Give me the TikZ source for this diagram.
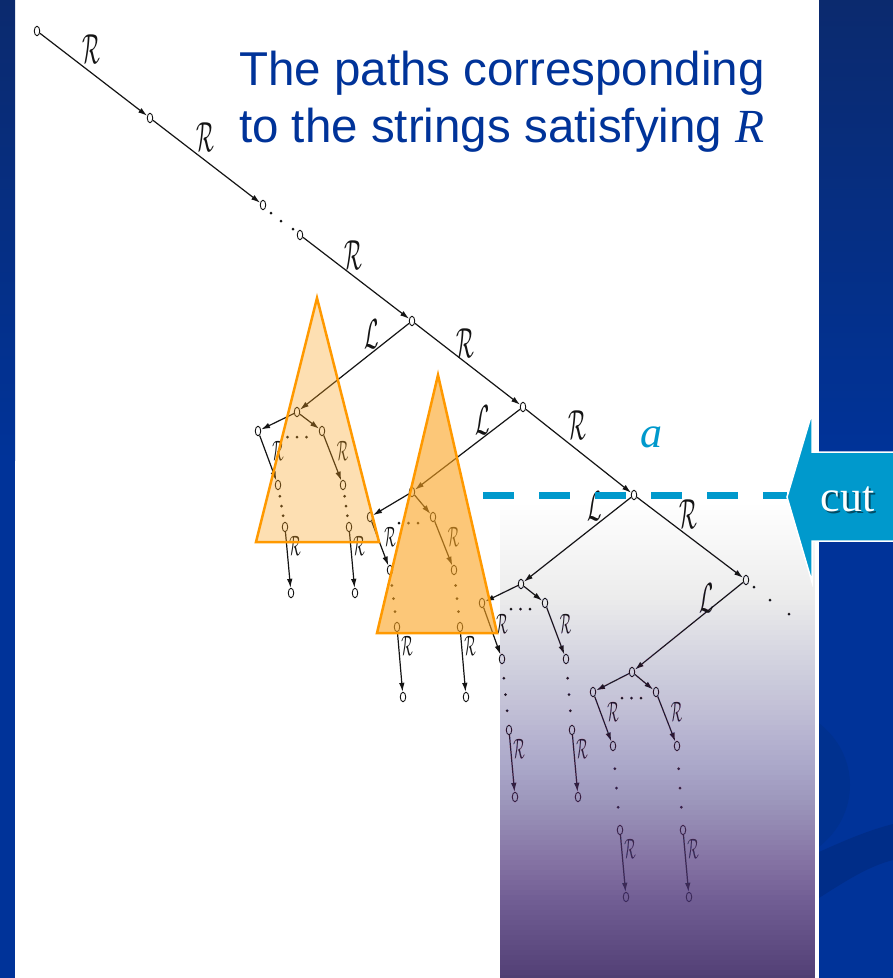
\documentclass[tikz,border=0pt]{standalone}
\usepackage{fontspec}
\setmainfont{Liberation Sans}
\newfontfamily\tnr{Liberation Serif}
\usetikzlibrary{arrows.meta,shapes.geometric,calc}
\definecolor{pptblue}{HTML}{003399}
\definecolor{pptnavy}{HTML}{0B2A6E}
\definecolor{swoosh}{HTML}{00318F}
\definecolor{swooshb}{HTML}{002D88}
\definecolor{cutcyan}{HTML}{0099CC}
\definecolor{triorange}{HTML}{FF9900}
\definecolor{trifill}{RGB}{250,163,30}
\definecolor{ovtop}{RGB}{150,110,215}
\definecolor{ovbot}{RGB}{64,50,100}
\definecolor{treeink}{RGB}{20,20,20}
\newcommand{\myR}{\scalebox{2.1}[4.2]{$\mathcal{R}$}}
\newcommand{\myL}{\scalebox{2.1}[4.2]{$\mathcal{L}$}}
\newcommand{\mysR}{\scalebox{1.35}[2.8]{$\mathcal{R}$}}
\newcommand{\ovalpha}[2]{\pgfmathsetmacro#1{(#2<600) ? 0.07*(#2-505)/95 : ((#2<700) ? 0.07+0.2*(#2-600)/100 : ((#2<800) ? 0.27+0.24*(#2-700)/100 : ((#2<900) ? 0.51+0.26*(#2-800)/100 : 0.77+0.15*(#2-900)/78)))}}
\begin{document}
\begin{tikzpicture}[x=1pt,y=-1pt,
  tn/.style={draw=treeink, fill=white, ellipse, minimum width=5.5pt, minimum height=9.5pt, inner sep=0pt, line width=0.9pt},
  ed/.style={draw=treeink, line width=1.2pt, -{Latex[length=9pt,width=5.5pt]}},
  dt/.style={fill=treeink, circle, inner sep=0pt, minimum size=3pt},
  lbl/.style={inner sep=0pt, text=treeink},
  tri/.style={draw=triorange, line width=2.5pt, line join=miter, fill=trifill},
]
\useasboundingbox (0,0) rectangle (893,978);
% ---------- background ----------
\fill[white] (0,0) rectangle (893,978);
\shade[top color=pptnavy, bottom color=pptblue] (0,0) rectangle (15,460);
\fill[pptblue] (0,455) rectangle (15,978);
\shade[top color=pptnavy, bottom color=pptblue] (819,0) rectangle (893,460);
\fill[pptblue] (819,455) rectangle (893,978);
\begin{scope}
  \clip (819,455) rectangle (893,978);
  \fill[swoosh] (765,785) ellipse [x radius=85pt, y radius=80pt];
  \fill[swooshb] (819,852) .. controls (850,838) and (870,830) .. (893,824) -- (893,860) .. controls (870,866) and (850,878) .. (819,898) -- cycle;
\end{scope}

% ---------- main spine ----------
\node[tn] (n0) at (37,31) {};
\node[tn] (n1) at (150,118) {};
\node[tn] (n2) at (263,205) {};
\node[tn] (n3) at (300,235) {};
\node[tn] (n4) at (412,321) {};
\node[tn] (n5) at (523,407) {};
\node[tn] (n6) at (634,495) {};
\node[tn] (n7) at (746,580) {};
\node[dt] (m1) at (271,213) {};
\node[dt] (m2) at (281,221) {};
\node[dt] (m3) at (293,229) {};
\node[dt] (e1) at (754,587) {};
\node[dt] (e2) at (770,600) {};
\node[dt] (e3) at (789,614) {};
\draw[ed] (n0) -- (n1);
\draw[ed] (n1) -- (n2);
\draw[ed] (n3) -- (n4);
\draw[ed] (n4) -- (n5);
\draw[ed] (n5) -- (n6);
\draw[ed] (n6) -- (n7);
\node[lbl] (l01) at (91,49) {\myR};
\node[lbl] (l12) at (205,137) {\myR};
\node[lbl] (l34) at (353,255) {\myR};
\node[lbl] (l45) at (465,343) {\myR};
\node[lbl] (l56) at (577,425) {\myR};
\node[lbl] (l67) at (688,514) {\myR};
\node[lbl] (L4) at (372,334) {\myL};
\node[lbl] (L5) at (483,420) {\myL};
\node[lbl] (L6) at (595,506) {\myL};
\node[lbl] (L7) at (707,598) {\myL};

% ---------- subtrees ----------
\foreach \sn/\rx/\ry/\ax/\ay/\bx/\ytwo/\ythree/\yfour in
  {1/297/412/-39/19/25/73/115/181, 2/412/492/-42/25/21/78/135/205,
   3/521/584/-39/19/24/75/146/213, 4/632/672/-39/20/24/74/158/225}{
  \begin{scope}[shift={(\rx,\ry)}]
    \node[tn] (s\sn-r) at (0,0) {};
    \node[tn] (s\sn-a) at (\ax,\ay) {};
    \node[tn] (s\sn-b) at (\bx,\ay) {};
    \node[tn] (s\sn-a2) at (\ax+20,\ytwo) {};
    \node[tn] (s\sn-b2) at (\bx+21,\ytwo) {};
    \node[tn] (s\sn-a3) at (\ax+27,\ythree) {};
    \node[tn] (s\sn-b3) at (\bx+27,\ythree) {};
    \node[tn] (s\sn-a4) at (\ax+33,\yfour) {};
    \node[tn] (s\sn-b4) at (\bx+33,\yfour) {};
  \end{scope}
  \draw[ed] (s\sn-r) -- (s\sn-a);
  \draw[ed] (s\sn-r) -- (s\sn-b);
  \draw[ed] (s\sn-a) -- (s\sn-a2);
  \draw[ed] (s\sn-b) -- (s\sn-b2);
  \draw[ed] (s\sn-a3) -- (s\sn-a4);
  \draw[ed] (s\sn-b3) -- (s\sn-b4);
  \node[dt] (s\sn-h1) at ($(s\sn-a)!0.5!(s\sn-b)+(-2.5,6)$) {};
  \node[dt] (s\sn-h2) at ($(s\sn-a)!0.5!(s\sn-b)+(7,6)$) {};
  \node[dt] (s\sn-h3) at ($(s\sn-a)!0.5!(s\sn-b)+(16.5,6)$) {};
  \node[dt] (s\sn-va1) at ($(s\sn-a2)!0.27!(s\sn-a3)$) {};
  \node[dt] (s\sn-va2) at ($(s\sn-a2)!0.5!(s\sn-a3)$) {};
  \node[dt] (s\sn-va3) at ($(s\sn-a2)!0.73!(s\sn-a3)$) {};
  \node[dt] (s\sn-vb1) at ($(s\sn-b2)!0.27!(s\sn-b3)$) {};
  \node[dt] (s\sn-vb2) at ($(s\sn-b2)!0.5!(s\sn-b3)$) {};
  \node[dt] (s\sn-vb3) at ($(s\sn-b2)!0.73!(s\sn-b3)$) {};
  \node[lbl] (s\sn-la) at ($(s\sn-a)!0.5!(s\sn-a2)+(10,-7)$) {\mysR};
  \node[lbl] (s\sn-lb) at ($(s\sn-b)!0.5!(s\sn-b2)+(10,-7)$) {\mysR};
  \node[lbl] (s\sn-lc) at ($(s\sn-a3)+(10,19)$) {\mysR};
  \node[lbl] (s\sn-ld) at ($(s\sn-b3)+(10,19)$) {\mysR};
}
\draw[ed] (n4) -- (s1-r);
\draw[ed] (n5) -- (s2-r);
\draw[ed] (n6) -- (s3-r);
\draw[ed] (n7) -- (s4-r);

% ---------- triangles ----------
\filldraw[tri, fill opacity=0.34] (317,298) -- (256,542) -- (379,542) -- cycle;
\filldraw[tri, fill opacity=0.6] (438,375) -- (377,633) -- (497,633) -- cycle;

% ---------- purple overlay (stacked translucent layers) ----------
\foreach \yy in {510,515,...,980}{
  \ovalpha{\aone}{\yy}
  \ovalpha{\azero}{\yy-5}
  \pgfmathsetmacro\be{1-(1-\aone)/(1-\azero)}
  \pgfmathsetmacro\pc{min(100,max(0,(\yy-505)/473*100))}
  \fill[ovbot!\pc!ovtop, fill opacity=\be] (500,\yy-5) rectangle (815,978);
}

% ---------- cut ----------
\coordinate (cutstart) at (483,495);
\coordinate (cuttip) at (787,497);
\draw[cutcyan, line width=7pt, dash pattern=on 31pt off 25pt] (cutstart) -- (cuttip |- cutstart);
\filldraw[fill=cutcyan, draw=white, line width=1.5pt] (cuttip) -- (812,413) -- (812,452) -- (900,452) -- (900,541) -- (812,541) -- (812,582) -- cycle;
\node[anchor=base, font=\tnr\fontsize{44}{44}\selectfont, text=black, opacity=0.5] (cutshadow) at (849.5,513.5) {cut};
\node[anchor=base, font=\tnr\fontsize{44}{44}\selectfont, text=white] (cut) at (847.5,511) {cut};

% ---------- texts ----------
\node[anchor=base, font=\tnr\itshape\fontsize{44}{44}\selectfont, text=cutcyan, inner sep=0pt] (alabel) at (651,447) {a};
\node[anchor=base west, font=\fontsize{47.5}{57}\selectfont, text=pptblue, inner sep=0pt] (t1) at (239,85) {The paths corresponding};
\node[anchor=base west, font=\fontsize{47.5}{57}\selectfont, text=pptblue, inner sep=0pt] (t2) at (239,142) {to the strings satisfying {\tnr\itshape R}};
\end{tikzpicture}
\end{document}
